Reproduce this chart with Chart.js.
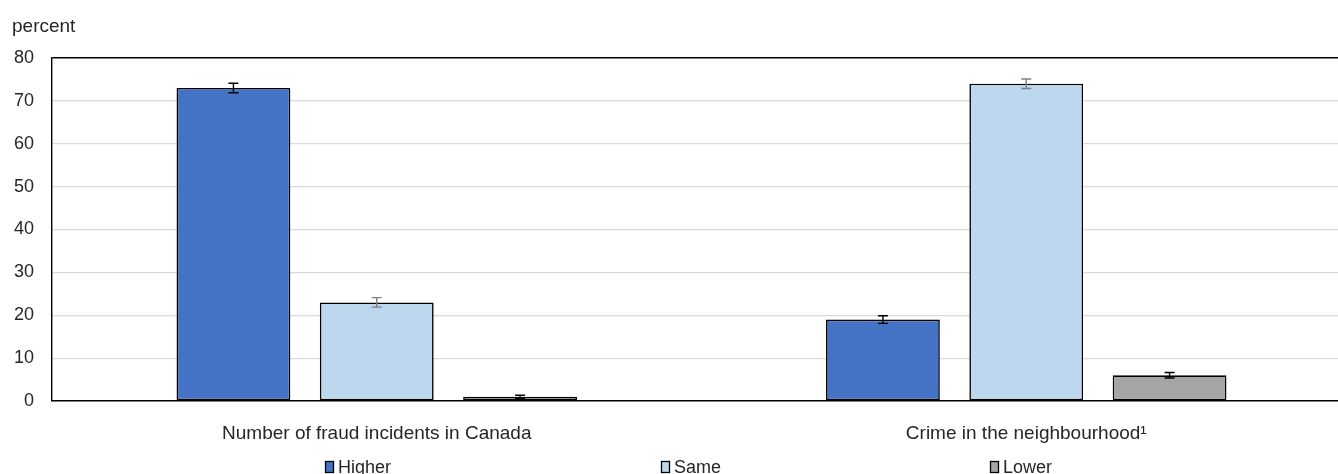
<!DOCTYPE html>
<html>
<head>
<meta charset="utf-8">
<title>Perceptions of crime</title>
<script src="https://cdn.jsdelivr.net/npm/chart.js@4.4.1/dist/chart.umd.min.js"></script>
<style>
  html, body { margin: 0; padding: 0; background: #ffffff; overflow: hidden; }
  #wrap { width: 1352px; height: 474px; }
</style>
</head>
<body>
<div id="wrap"><canvas id="chart" width="1352" height="474"></canvas></div>
<script>
// Categories and series (percent)
const categories = ["Number of fraud incidents in Canada", "Crime in the neighbourhood\u00B9"];
const seriesNames = ["Higher", "Same", "Lower"];
const higher = [73, 19];
const same = [23, 74];
const lower = [1, 6];
// Half-width of the confidence interval for each bar
const higherErr = [1.1, 0.9];
const sameErr = [1.1, 1.1];
const lowerErr = [0.35, 0.65];

const FONT = "'Liberation Sans', Arial, sans-serif";
const TEXT = "#262626";

// Draws the confidence-interval whiskers on top of each bar
const errorBars = {
  id: "errorBars",
  afterDatasetsDraw(chart) {
    const ctx = chart.ctx;
    const y = chart.scales.y;
    chart.data.datasets.forEach((ds, i) => {
      const meta = chart.getDatasetMeta(i);
      meta.data.forEach((bar, j) => {
        const v = ds.data[j], e = ds.errors[j];
        const top = y.getPixelForValue(v + e);
        const bot = y.getPixelForValue(v - e);
        const half = 5;
        ctx.save();
        ctx.strokeStyle = ds.errorColor;
        ctx.lineWidth = 1.4;
        ctx.beginPath();
        ctx.moveTo(bar.x, top); ctx.lineTo(bar.x, bot);
        ctx.moveTo(bar.x - half, top); ctx.lineTo(bar.x + half, top);
        ctx.moveTo(bar.x - half, bot); ctx.lineTo(bar.x + half, bot);
        ctx.stroke();
        ctx.restore();
      });
    });
  }
};

// Unit label above the value axis and the evenly spread legend row
const decorations = {
  id: "decorations",
  afterDraw(chart, args, opts) {
    const ctx = chart.ctx;
    ctx.save();
    ctx.fillStyle = TEXT;
    ctx.font = "19px " + FONT;
    ctx.textAlign = "left";
    ctx.textBaseline = "alphabetic";
    ctx.fillText("percent", 12, 32);

    ctx.font = "18px " + FONT;
    chart.data.datasets.forEach((ds, i) => {
      const x = opts.legendX[i];
      ctx.fillStyle = ds.backgroundColor;
      ctx.fillRect(x + 0.5, 461.5, 8, 11);
      ctx.strokeStyle = "#000000";
      ctx.lineWidth = 1.3;
      ctx.strokeRect(x + 0.5, 461.5, 8, 11);
      ctx.fillStyle = TEXT;
      ctx.fillText(ds.label, x + 13, 473);
    });
    ctx.restore();
  }
};

const makeSet = (label, data, errors, fill, errColor) => ({
  label, data, errors,
  backgroundColor: fill,
  borderColor: "#000000",
  borderWidth: 1.6,
  borderSkipped: false,
  errorColor: errColor,
  categoryPercentage: 0.662,
  barPercentage: 0.794
});

new Chart(document.getElementById("chart"), {
  type: "bar",
  data: {
    labels: categories,
    datasets: [
      makeSet(seriesNames[0], higher, higherErr, "#4472C4", "#000000"),
      makeSet(seriesNames[1], same, sameErr, "#BDD7EE", "#7f7f7f"),
      makeSet(seriesNames[2], lower, lowerErr, "#A5A5A5", "#000000")
    ]
  },
  plugins: [errorBars, decorations],
  options: {
    responsive: false,
    animation: false,
    layout: { padding: { top: 58, right: 1, left: 0, bottom: 0 } },
    plugins: {
      legend: { display: false },
      tooltip: { enabled: false },
      decorations: { legendX: [325, 661, 990] }
    },
    scales: {
      x: {
        grid: { display: false, drawTicks: false },
        border: { display: true, color: "#000000", width: 1.4 },
        ticks: { color: TEXT, font: { family: FONT, size: 19 }, padding: 21, maxRotation: 0 },
        afterFit(scale) { scale.height = 73; }
      },
      y: {
        min: 0, max: 80,
        grid: {
          drawTicks: false,
          color: (c) => (c.tick && c.tick.value === 80 ? "#000000" : "#d9d9d9"),
          lineWidth: (c) => (c.tick && c.tick.value === 80 ? 1.4 : 1.2)
        },
        border: { display: true, color: "#000000", width: 1.4 },
        ticks: { stepSize: 10, color: TEXT, font: { family: FONT, size: 18 }, padding: 18 },
        afterFit(scale) { scale.width = 52; }
      }
    }
  }
});
</script>
</body>
</html>
